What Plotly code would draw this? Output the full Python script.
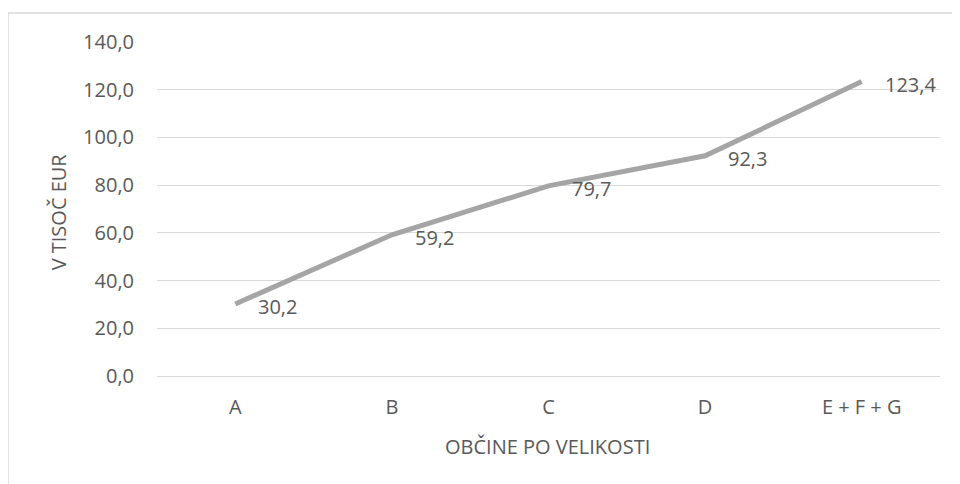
import plotly.graph_objects as go

categories = ["A", "B", "C", "D", "E + F + G"]
values = [30.2, 59.2, 79.7, 92.3, 123.4]
y_ticks = [0, 20, 40, 60, 80, 100, 120, 140]
x_title = "OBČINE PO VELIKOSTI"
y_title = "V TISOČ EUR"

FONT = "Open Sans"
TXT = "#595959"

fig = go.Figure()
fig.add_trace(go.Scatter(
    x=categories, y=values, mode="lines",
    line=dict(color="#A5A5A5", width=5),
    hoverinfo="skip", showlegend=False,
))

for c, v in zip(categories, values):
    fig.add_annotation(
        x=c, y=v, xref="x", yref="y",
        text=f"{v:.1f}".replace(".", ","),
        showarrow=False, xanchor="left", yanchor="middle",
        xshift=21, yshift=-3,
        font=dict(family=FONT, size=20, color=TXT),
    )

fig.add_annotation(
    x=0.4987, y=-0.2096, xref="paper", yref="paper",
    text=x_title, showarrow=False, xanchor="center", yanchor="middle",
    font=dict(family=FONT, size=20, color=TXT),
)
fig.add_annotation(
    x=-0.1264, y=0.49, xref="paper", yref="paper",
    text=y_title, showarrow=False, textangle=-90,
    xanchor="center", yanchor="middle",
    font=dict(family=FONT, size=20, color=TXT),
)

# chart-area border (left & top visible)
fig.add_shape(type="rect", xref="paper", yref="paper",
              x0=-0.1903, x1=1.2, y0=-0.6, y1=1.0868,
              line=dict(color="#D9D9D9", width=1.5), layer="below")

fig.update_layout(
    width=960, height=484,
    margin=dict(l=149, r=28, t=34, b=116),
    paper_bgcolor="white", plot_bgcolor="white",
    separators=", ",
    font=dict(family=FONT, size=20, color=TXT),
)
fig.update_xaxes(
    type="category", range=[-0.5, 4.5],
    showgrid=False, showline=False, zeroline=False,
    ticks="", tickfont=dict(family=FONT, size=20, color=TXT),
    ticklabelstandoff=17,
)
fig.update_yaxes(
    range=[0, 140], tickvals=y_ticks, tickformat=".1f",
    showgrid=True, gridcolor="#D9D9D9", gridwidth=1.3,
    zeroline=True, zerolinecolor="#D9D9D9", zerolinewidth=1.3,
    showline=False, ticks="",
    tickfont=dict(family=FONT, size=20, color=TXT),
    ticklabelstandoff=22,
)

fig.write_html("out.html")
